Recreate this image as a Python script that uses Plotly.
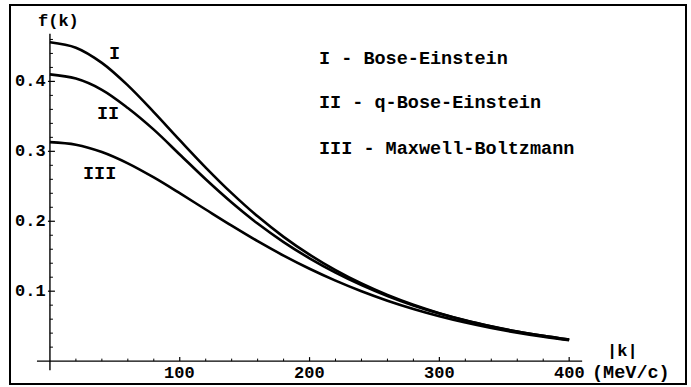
import plotly.graph_objects as go

# ---- data ----
k = [0, 20, 40, 60, 80, 100, 120, 140, 160, 180, 200,
     220, 240, 260, 280, 300, 320, 340, 360, 380, 400]
f_be = [0.4560, 0.4482, 0.4265, 0.3943, 0.3561, 0.3160, 0.2768, 0.2402, 0.2070, 0.1777, 0.1522,
        0.1301, 0.1110, 0.0946, 0.0806, 0.0686, 0.0584, 0.0498, 0.0423, 0.0361, 0.0307]
f_qbe = [0.4100, 0.4040, 0.3880, 0.3620, 0.3310, 0.2955, 0.2600, 0.2268, 0.1967, 0.1702, 0.1470,
         0.1266, 0.1087, 0.0931, 0.0796, 0.0680, 0.0580, 0.0496, 0.0422, 0.0361, 0.0307]
f_mb = [0.3132, 0.3095, 0.2990, 0.2828, 0.2626, 0.2401, 0.2168, 0.1937, 0.1715, 0.1509, 0.1321,
        0.1151, 0.0999, 0.0864, 0.0746, 0.0642, 0.0552, 0.0474, 0.0406, 0.0348, 0.0298]

x_major = [100, 200, 300, 400]
x_minor = [v for v in range(20, 401, 20) if v not in x_major]
y_major = [0.1, 0.2, 0.3, 0.4]
y_minor = [round(0.02 * i, 2) for i in range(1, 24) if i % 5 != 0]
x_labels = ["100", "200", "300", "400"]
y_labels = ["0.1", "0.2", "0.3", "0.4"]

curve_names = ["I", "II", "III"]
legend_lines = ["I - Bose-Einstein", "II - q-Bose-Einstein", "III - Maxwell-Boltzmann"]

# ---- geometry ----
W, H = 691, 387
FL, FR, FT, FB = 11, 686, 4, 383          # frame (pixels)
X0PX, XPX = 50, 1.3                        # x=0 pixel, px per unit
Y0PX, YPX = 361, 703.0                     # y=0 pixel, px per unit

xr = [(FL - X0PX) / XPX, (FR - X0PX) / XPX]
yr = [(Y0PX - FB) / YPX, (Y0PX - FT) / YPX]

FONT = "Liberation Mono, Courier New, monospace"
TXT = dict(family=FONT, size=17, color="black", weight="bold")
BIG = dict(family=FONT, size=18.5, color="black", weight="bold")

fig = go.Figure()
for ys in (f_be, f_qbe, f_mb):
    fig.add_trace(go.Scatter(x=k, y=ys, mode="lines",
                             line=dict(color="black", width=2.6, shape="spline"),
                             showlegend=False, hoverinfo="skip"))

shapes = []
# axes
shapes.append(dict(type="line", xref="x", yref="y", x0=-10, x1=410, y0=0, y1=0,
                   line=dict(color="black", width=1.4)))
shapes.append(dict(type="line", xref="x", yref="y", x0=0, x1=0, y0=-0.013, y1=0.468,
                   line=dict(color="black", width=1.4)))
# x ticks
for v in x_major:
    shapes.append(dict(type="line", xref="x", yref="y", ysizemode="pixel", yanchor=0,
                       x0=v, x1=v, y0=0, y1=4, line=dict(color="black", width=1.2)))
for v in x_minor:
    shapes.append(dict(type="line", xref="x", yref="y", ysizemode="pixel", yanchor=0,
                       x0=v, x1=v, y0=0, y1=2.5, line=dict(color="black", width=1)))
# y ticks
for v in y_major:
    shapes.append(dict(type="line", xref="x", yref="y", xsizemode="pixel", xanchor=0,
                       x0=-2, x1=5, y0=v, y1=v, line=dict(color="black", width=1.2)))
for v in y_minor:
    shapes.append(dict(type="line", xref="x", yref="y", xsizemode="pixel", xanchor=0,
                       x0=0, x1=3, y0=v, y1=v, line=dict(color="black", width=1)))

ann = []
for v, t in zip(x_major, x_labels):
    ann.append(dict(x=v, y=0, xref="x", yref="y", text=t, showarrow=False,
                    xanchor="center", yanchor="middle", yshift=-12, font=TXT))
for v, t in zip(y_major, y_labels):
    ann.append(dict(x=0, y=v, xref="x", yref="y", text=t, showarrow=False,
                    xanchor="right", yanchor="middle", xshift=-2, font=TXT))
# axis labels
ann.append(dict(x=0, y=0.468, xref="x", yref="y", text="f(k)", showarrow=False,
                xanchor="center", yanchor="bottom", xshift=9, yshift=1, font=TXT))
ann.append(dict(x=410, y=0, xref="x", yref="y", text="|k|", showarrow=False,
                xanchor="center", yanchor="middle", xshift=40, yshift=10, font=TXT))
ann.append(dict(x=410, y=0, xref="x", yref="y", text="(MeV/c)", showarrow=False,
                xanchor="left", yanchor="middle", xshift=8, yshift=-12,
                font=dict(family=FONT, size=18.5, color="black", weight="bold")))
# curve labels
lab_pos = [(50, 0.438), (44.6, 0.353), (38.5, 0.267)]
for (lx, ly), t in zip(lab_pos, curve_names):
    ann.append(dict(x=lx, y=ly, xref="x", yref="y", text=t, showarrow=False,
                    xanchor="center", yanchor="middle", font=BIG))
# legend text
leg_y = [0.431, 0.368, 0.302]
for ly, t in zip(leg_y, legend_lines):
    ann.append(dict(x=206, y=ly, xref="x", yref="y", text=t, showarrow=False,
                    xanchor="left", yanchor="middle", font=BIG))

fig.update_layout(
    width=W, height=H,
    margin=dict(l=FL, r=W - FR, t=FT, b=H - FB, pad=0),
    paper_bgcolor="white", plot_bgcolor="white",
    xaxis=dict(range=xr, showgrid=False, zeroline=False, showticklabels=False, ticks="",
               showline=True, mirror=True, linecolor="black", linewidth=2, fixedrange=True),
    yaxis=dict(range=yr, showgrid=False, zeroline=False, showticklabels=False, ticks="",
               showline=True, mirror=True, linecolor="black", linewidth=2, fixedrange=True),
    shapes=shapes, annotations=ann,
)
fig.write_html("out.html", config=dict(displayModeBar=False),
               post_script="document.body.style.margin='0';document.body.style.padding='0';")
